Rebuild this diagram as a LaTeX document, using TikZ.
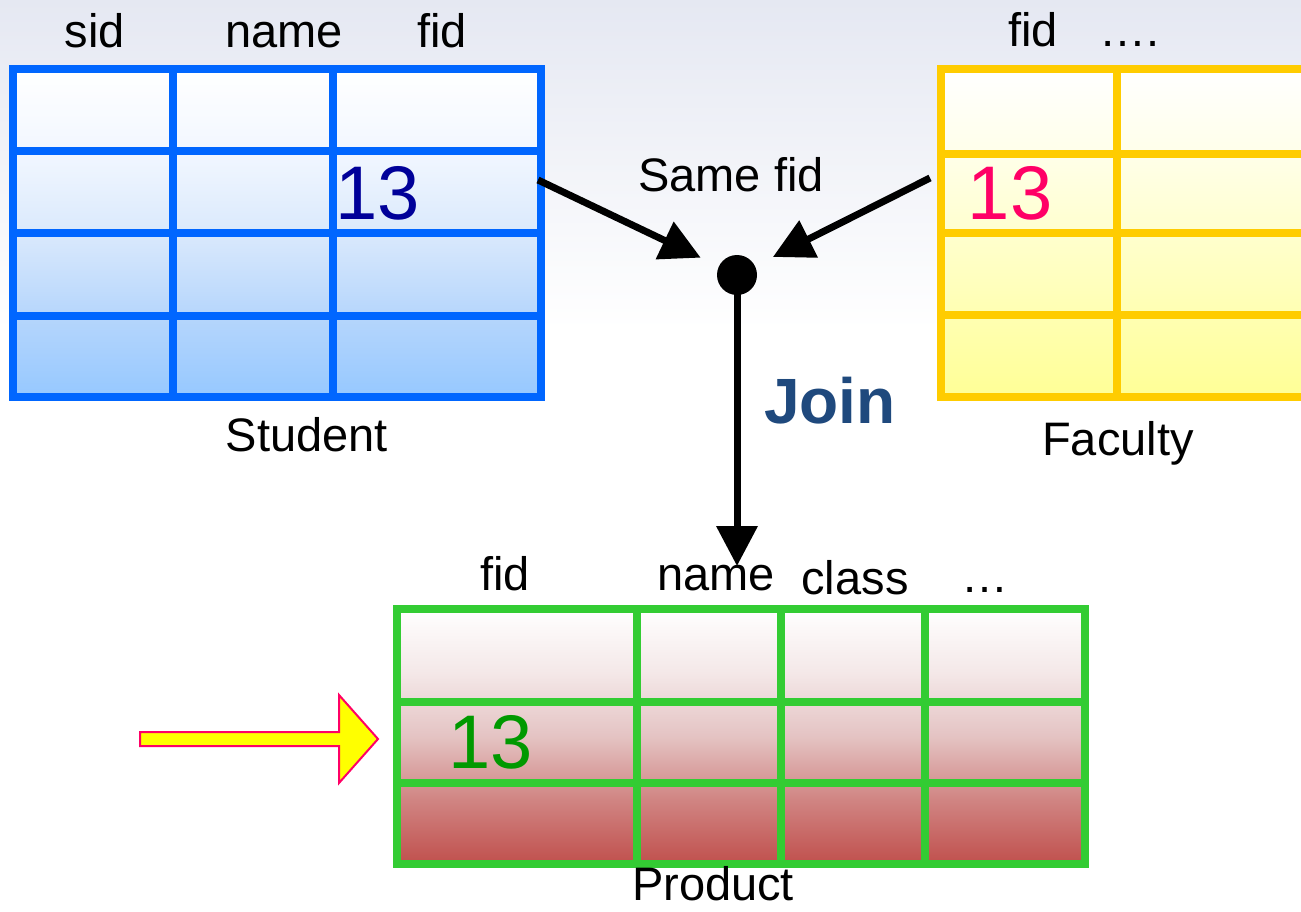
\documentclass[tikz,border=0pt]{standalone}
\usepackage{fontspec}
\setmainfont{Liberation Sans}
\usetikzlibrary{arrows.meta,calc}

\definecolor{bgTop}{RGB}{229,232,242}
\definecolor{stuLine}{RGB}{0,102,255}
\definecolor{facLine}{RGB}{255,204,0}
\definecolor{prodLine}{RGB}{51,204,51}
\definecolor{numBlue}{RGB}{0,0,153}
\definecolor{numPink}{RGB}{255,0,102}
\definecolor{numGreen}{RGB}{0,153,0}
\definecolor{joinBlue}{RGB}{31,73,125}
\definecolor{hintFill}{RGB}{255,255,0}
\definecolor{hintEdge}{RGB}{255,0,102}

% fill stops, from the bottom of each table upwards
\definecolor{stuA}{RGB}{150,200,255}
\definecolor{stuB}{RGB}{182,214,252}
\definecolor{stuC}{RGB}{218,233,252}
\definecolor{stuD}{RGB}{242,247,255}
\definecolor{facA}{RGB}{255,255,150}
\definecolor{facB}{RGB}{255,255,178}
\definecolor{facC}{RGB}{255,255,206}
\definecolor{facD}{RGB}{255,255,234}
\definecolor{prodA}{RGB}{192,80,77}
\definecolor{prodB}{RGB}{208,132,130}
\definecolor{prodC}{RGB}{228,195,195}
\definecolor{prodD}{RGB}{244,232,232}

% table fills: light at the top, deepening towards the bottom
\pgfdeclareverticalshading{stuFill}{100bp}{%
  color(0bp)=(stuA); color(25bp)=(stuA); color(37.5bp)=(stuB);
  color(50bp)=(stuC); color(62.5bp)=(stuD); color(75bp)=(white); color(100bp)=(white)}
\pgfdeclareverticalshading{facFill}{100bp}{%
  color(0bp)=(facA); color(25bp)=(facA); color(37.5bp)=(facB);
  color(50bp)=(facC); color(62.5bp)=(facD); color(75bp)=(white); color(100bp)=(white)}
\pgfdeclareverticalshading{prodFill}{100bp}{%
  color(0bp)=(prodA); color(25bp)=(prodA); color(37.5bp)=(prodB);
  color(50bp)=(prodC); color(62.5bp)=(prodD); color(75bp)=(white); color(100bp)=(white)}

\tikzset{
  lbl/.style={font=\fontsize{47}{56}\selectfont, inner sep=0pt, anchor=base},
  num/.style={font=\fontsize{76}{90}\selectfont, inner sep=0pt, anchor=base},
  joinlbl/.style={font=\fontsize{64}{76}\selectfont\bfseries, inner sep=0pt, anchor=base, text=joinBlue},
  tablebox/.style={rectangle, inner sep=0pt, outer sep=0pt, line width=8pt},
  link/.style={line width=7pt, -{Triangle[length=40pt,width=40pt]}},
}

\begin{document}
\begin{tikzpicture}[x=1pt,y=-1pt]
  \useasboundingbox (0,0) rectangle (1301,912);
  \clip (0,0) rectangle (1301,912);

  % backdrop
  \fill[white] (0,0) rectangle (1301,912);
  \shade[top color=bgTop, bottom color=white] (0,0) rectangle (1301,330);

  % Student table
  \node[tablebox, draw=stuLine, shading=stuFill,
        minimum width=528pt, minimum height=328pt] (student) at (277,233) {};
  \begin{scope}[stuLine, line width=8pt]
    \draw (173,69) -- (173,397);
    \draw (333,69) -- (333,397);
    \draw (13,151) -- (541,151);
    \draw (13,233) -- (541,233);
    \draw (13,316) -- (541,316);
  \end{scope}

  % Faculty table (runs off the right edge)
  \node[tablebox, draw=facLine, shading=facFill,
        minimum width=379pt, minimum height=328pt] (faculty) at (1130.5,233) {};
  \begin{scope}[facLine, line width=8pt]
    \draw (1117,69) -- (1117,397);
    \draw (941,154) -- (1320,154);
    \draw (941,233) -- (1320,233);
    \draw (941,315) -- (1320,315);
  \end{scope}

  % Product table
  \node[tablebox, draw=prodLine, shading=prodFill,
        minimum width=688pt, minimum height=255pt] (product) at (741,736.5) {};
  \begin{scope}[prodLine, line width=8pt]
    \draw (637,609) -- (637,864);
    \draw (781,609) -- (781,864);
    \draw (925,609) -- (925,864);
    \draw (397,702) -- (1085,702);
    \draw (397,783) -- (1085,783);
  \end{scope}

  % column headers
  \node[lbl] (hSid)    at (95,48)   {sid};
  \node[lbl] (hSname)  at (284,48)  {name};
  \node[lbl] (hSfid)   at (442,48)  {fid};
  \node[lbl] (hFfid)   at (1033,47) {fid};
  \node[lbl] (hFmore)  at (1130,47) {….};
  \node[lbl] (hPfid)   at (505,590) {fid};
  \node[lbl] (hPname)  at (716,590) {name};
  \node[lbl] (hPclass) at (855,594) {class};
  \node[lbl] (hPmore)  at (985,592) {…};

  % table captions
  \node[lbl] (capS) at (307,451)  {Student};
  \node[lbl] (capF) at (1118,455) {Faculty};
  \node[lbl] (capP) at (713,900)  {Product};

  % matching values
  \node[num, text=numBlue]  (vS) at (378,220)  {13};
  \node[num, text=numPink]  (vF) at (1010,220) {13};
  \node[num, text=numGreen] (vP) at (491,768)  {13};

  % join point and connectors
  \node[circle, fill=black, minimum size=40pt, inner sep=0pt] (dot) at (737,275) {};
  \coordinate (sOut) at (538,180);
  \coordinate (fOut) at (930,178);
  \coordinate (pIn) at (737,566);
  \draw[link, shorten >=20pt] (sOut) -- (dot);
  \draw[link, shorten >=20pt] (fOut) -- (dot);
  \draw[link] (dot.center) -- (pIn);

  \node[lbl] (same) at (731,192) {Same fid};
  \node[joinlbl] (join) at (830,423) {Join};

  % highlight arrow pointing at the matched row
  \draw[fill=hintFill, draw=hintEdge, line width=2pt, line join=miter]
    (140,732) -- (339,732) -- (339,695) -- (378,739) -- (339,783) -- (339,746) -- (140,746) -- cycle;
\end{tikzpicture}
\end{document}
